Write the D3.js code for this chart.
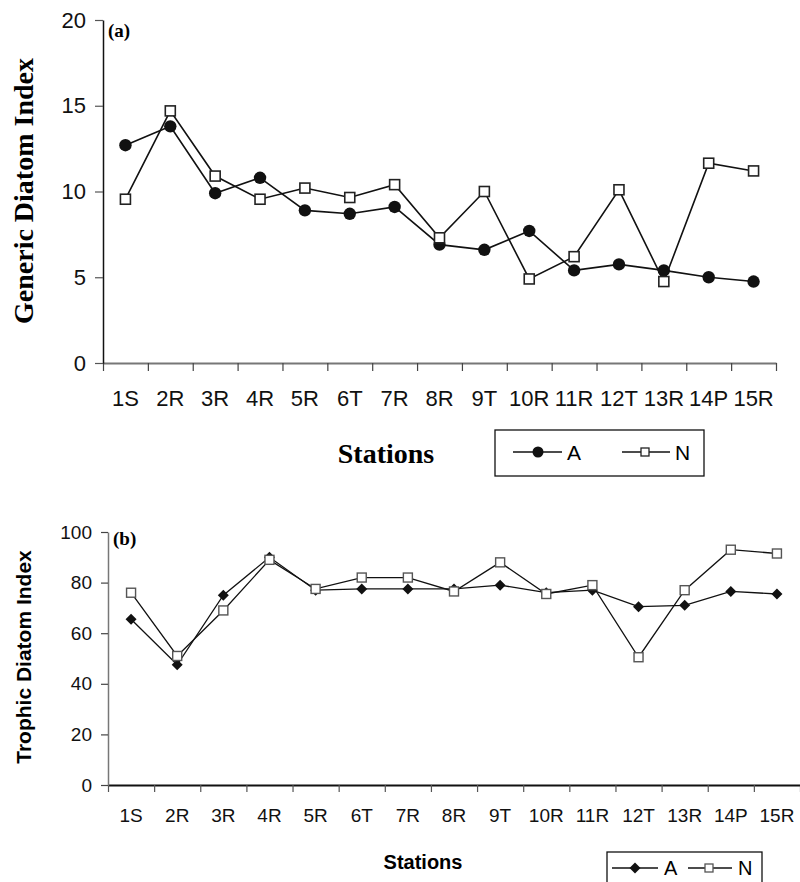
<!DOCTYPE html>
<html lang="en">
<head>
    <meta charset="UTF-8">
    <title>Generic and Trophic Diatom Index by station</title>
    <style>
        body {
            margin: 0;
            background: #fff;
        }
        svg {
            display: block;
            font-family: "Liberation Sans", Arial, sans-serif;
        }
        .serif {
            font-family: "Liberation Serif", "Times New Roman", serif;
            font-weight: bold;
        }
    </style>
</head>
<body>
<svg width="800" height="882"></svg>

<script src="https://d3js.org/d3.v7.min.js"></script>
<script>
    // data
    const stations = ["1S", "2R", "3R", "4R", "5R", "6T", "7R", "8R", "9T", "10R", "11R", "12T", "13R", "14P", "15R"];

    const gdiA = [12.7, 13.8, 9.9, 10.8, 8.9, 8.7, 9.1, 6.9, 6.6, 7.7, 5.4, 5.75, 5.4, 5.0, 4.75];
    const gdiN = [9.55, 14.7, 10.9, 9.55, 10.2, 9.65, 10.4, 7.3, 10.0, 4.9, 6.2, 10.1, 4.75, 11.65, 11.2];
    const gdiTicks = [0, 5, 10, 15, 20];

    const tdiA = [65.5, 47.5, 75, 90, 77, 77.5, 77.5, 77.5, 79, 76, 77, 70.5, 71, 76.5, 75.5];
    const tdiN = [76, 51, 69, 89, 77.5, 82, 82, 76.5, 88, 75.5, 79, 50.5, 77, 93, 91.5];
    const tdiTicks = [0, 20, 40, 60, 80, 100];

    const svg = d3.select("svg");

    const sans = '"Liberation Sans", Arial, sans-serif';

    // ---------- panel (a) ----------
    const xa = d3.scaleBand().domain(stations).range([103, 776]);
    const xaEdge = d3.scaleLinear().domain([0, stations.length]).range([103, 776]);
    const ya = d3.scaleLinear().domain([0, 20]).range([363, 20]);

    // x ticks at the band edges
    const gaxTicks = svg.append("g")
        .attr("transform", "translate(0,363)")
        .call(d3.axisBottom(xaEdge).ticks(15).tickFormat("").tickSizeInner(8).tickSizeOuter(0));
    gaxTicks.select(".domain").attr("stroke", "#777").attr("stroke-width", 2);
    gaxTicks.selectAll(".tick line").attr("stroke", "#444").attr("stroke-width", 1.2);

    // station labels in the band centres
    const gaxLabels = svg.append("g")
        .attr("transform", "translate(0,363)")
        .call(d3.axisBottom(xa).tickSize(0).tickPadding(27));
    gaxLabels.select(".domain").remove();
    gaxLabels.selectAll("text").attr("font-size", 22).attr("font-family", sans).attr("fill", "#111");

    const gay = svg.append("g")
        .attr("transform", "translate(103,0)")
        .call(d3.axisLeft(ya).tickValues(gdiTicks).tickSizeInner(8).tickSizeOuter(0).tickPadding(9));
    gay.select(".domain").attr("stroke", "#111").attr("stroke-width", 1.5);
    gay.selectAll(".tick line").attr("stroke", "#555").attr("stroke-width", 1.2);
    gay.selectAll("text").attr("font-size", 22).attr("font-family", sans).attr("fill", "#111");

    const lineA = d3.line().x((d, i) => xa(stations[i]) + xa.bandwidth() / 2).y(d => ya(d));

    svg.append("path").datum(gdiA)
        .attr("fill", "none").attr("stroke", "#111").attr("stroke-width", 1.6)
        .attr("d", lineA);
    svg.append("path").datum(gdiN)
        .attr("fill", "none").attr("stroke", "#111").attr("stroke-width", 1.6)
        .attr("d", lineA);

    svg.append("g").selectAll("circle").data(gdiA).join("circle")
        .attr("cx", (d, i) => xa(stations[i]) + xa.bandwidth() / 2)
        .attr("cy", d => ya(d))
        .attr("r", 6.2)
        .attr("fill", "#111");

    svg.append("g").selectAll("rect").data(gdiN).join("rect")
        .attr("x", (d, i) => xa(stations[i]) + xa.bandwidth() / 2 - 5)
        .attr("y", d => ya(d) - 5)
        .attr("width", 10).attr("height", 10)
        .attr("fill", "#fff").attr("stroke", "#222").attr("stroke-width", 1.6);

    svg.append("text").attr("class", "serif")
        .attr("x", 108).attr("y", 37).attr("font-size", 19)
        .text("(a)");

    svg.append("text").attr("class", "serif")
        .attr("transform", "translate(33,191) rotate(-90)")
        .attr("text-anchor", "middle").attr("font-size", 28)
        .text("Generic Diatom Index");

    svg.append("text").attr("class", "serif")
        .attr("x", 386).attr("y", 463).attr("text-anchor", "middle").attr("font-size", 28)
        .text("Stations");

    // legend (a)
    const legA = svg.append("g");
    legA.append("rect").attr("x", 495).attr("y", 430).attr("width", 209).attr("height", 46)
        .attr("fill", "#fff").attr("stroke", "#111").attr("stroke-width", 1.3);
    legA.append("line").attr("x1", 513).attr("x2", 562).attr("y1", 452).attr("y2", 452)
        .attr("stroke", "#111").attr("stroke-width", 1.6);
    legA.append("circle").attr("cx", 538).attr("cy", 452).attr("r", 5.5).attr("fill", "#111");
    legA.append("text").attr("x", 567).attr("y", 460).attr("font-size", 21).text("A");
    legA.append("line").attr("x1", 622).attr("x2", 670).attr("y1", 452).attr("y2", 452)
        .attr("stroke", "#111").attr("stroke-width", 1.6);
    legA.append("rect").attr("x", 641).attr("y", 448).attr("width", 8).attr("height", 8)
        .attr("fill", "#fff").attr("stroke", "#222").attr("stroke-width", 1.3);
    legA.append("text").attr("x", 675).attr("y", 460).attr("font-size", 21).text("N");

    // ---------- panel (b) ----------
    const xb = d3.scaleBand().domain(stations).range([108, 800]);
    const xbEdge = d3.scaleLinear().domain([0, stations.length]).range([108, 800]);
    const yb = d3.scaleLinear().domain([0, 100]).range([785, 532]);

    const gbxTicks = svg.append("g")
        .attr("transform", "translate(0,785)")
        .call(d3.axisBottom(xbEdge).ticks(15).tickFormat("").tickSizeInner(7).tickSizeOuter(0));
    gbxTicks.select(".domain").attr("stroke", "#111").attr("stroke-width", 2);
    gbxTicks.selectAll(".tick line").attr("stroke", "#555").attr("stroke-width", 1.2);

    const gbxLabels = svg.append("g")
        .attr("transform", "translate(0,785)")
        .call(d3.axisBottom(xb).tickSize(0).tickPadding(24));
    gbxLabels.select(".domain").remove();
    gbxLabels.selectAll("text").attr("font-size", 19).attr("font-family", sans).attr("fill", "#111");

    const gby = svg.append("g")
        .attr("transform", "translate(108,0)")
        .call(d3.axisLeft(yb).tickValues(tdiTicks).tickSizeInner(7).tickSizeOuter(0).tickPadding(9));
    gby.select(".domain").attr("stroke", "#777").attr("stroke-width", 1.5);
    gby.selectAll(".tick line").attr("stroke", "#444").attr("stroke-width", 1.2);
    gby.selectAll("text").attr("font-size", 19).attr("font-family", sans).attr("fill", "#111");

    const lineB = d3.line().x((d, i) => xb(stations[i]) + xb.bandwidth() / 2).y(d => yb(d));

    svg.append("path").datum(tdiA)
        .attr("fill", "none").attr("stroke", "#111").attr("stroke-width", 1.3)
        .attr("d", lineB);
    svg.append("path").datum(tdiN)
        .attr("fill", "none").attr("stroke", "#111").attr("stroke-width", 1.3)
        .attr("d", lineB);

    const diamond = "M0,-5.5L5.5,0L0,5.5L-5.5,0Z";
    svg.append("g").selectAll("path").data(tdiA).join("path")
        .attr("transform", (d, i) => `translate(${xb(stations[i]) + xb.bandwidth() / 2},${yb(d)})`)
        .attr("d", diamond)
        .attr("fill", "#111");

    svg.append("g").selectAll("rect").data(tdiN).join("rect")
        .attr("x", (d, i) => xb(stations[i]) + xb.bandwidth() / 2 - 4.5)
        .attr("y", d => yb(d) - 4.5)
        .attr("width", 9).attr("height", 9)
        .attr("fill", "#fff").attr("stroke", "#555").attr("stroke-width", 1.4);

    svg.append("text").attr("class", "serif")
        .attr("x", 113).attr("y", 545).attr("font-size", 19)
        .text("(b)");

    svg.append("text")
        .attr("transform", "translate(31,657) rotate(-90)")
        .attr("text-anchor", "middle").attr("font-size", 21).attr("font-weight", "bold")
        .text("Trophic Diatom Index");

    svg.append("text")
        .attr("x", 423).attr("y", 869).attr("text-anchor", "middle")
        .attr("font-size", 20).attr("font-weight", "bold")
        .text("Stations");

    // legend (b), cut off by the bottom edge as in the figure
    const legB = svg.append("g");
    legB.append("rect").attr("x", 607).attr("y", 852).attr("width", 155).attr("height", 45)
        .attr("fill", "#fff").attr("stroke", "#111").attr("stroke-width", 1.3);
    legB.append("line").attr("x1", 612).attr("x2", 658).attr("y1", 868).attr("y2", 868)
        .attr("stroke", "#111").attr("stroke-width", 1.4);
    legB.append("path").attr("transform", "translate(635,868)").attr("d", diamond).attr("fill", "#111");
    legB.append("text").attr("x", 664).attr("y", 875).attr("font-size", 20).text("A");
    legB.append("line").attr("x1", 688).attr("x2", 732).attr("y1", 868).attr("y2", 868)
        .attr("stroke", "#111").attr("stroke-width", 1.4);
    legB.append("rect").attr("x", 705).attr("y", 864).attr("width", 8).attr("height", 8)
        .attr("fill", "#fff").attr("stroke", "#555").attr("stroke-width", 1.3);
    legB.append("text").attr("x", 738).attr("y", 875).attr("font-size", 20).text("N");
</script>
</body>
</html>
